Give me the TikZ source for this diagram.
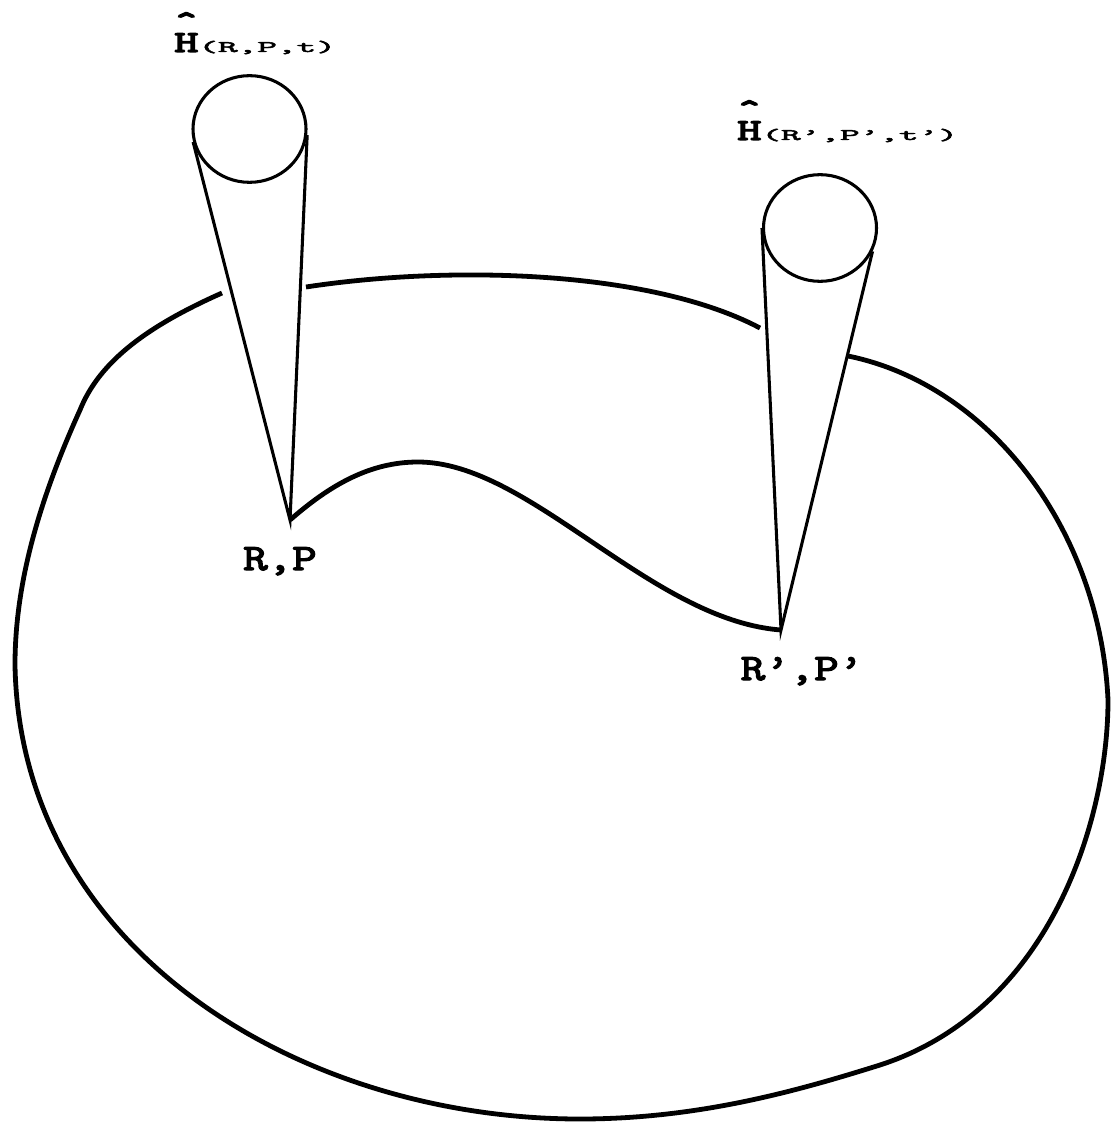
\documentclass[tikz,border=0pt]{standalone}
\usepackage{fontspec}
\usepackage{graphicx}
\usetikzlibrary{shapes.geometric}
\font\fRP="[lmmono10-regular.otf]:embolden=3" at 28pt
\font\fHH="[lmmono10-regular.otf]:embolden=3.5" at 23pt
\font\fSub="[lmmono10-regular.otf]:embolden=2.5" at 27pt
\newcommand\hathead[1]{\ooalign{#1\cr\hidewidth\raisebox{12.5pt}{\scalebox{1.7}[1.2]{ˆ}}\hidewidth\cr}}
\begin{document}
\begin{tikzpicture}[x=0.75pt,y=-0.75pt,
  thinline/.style={line width=2.3pt},
  thickline/.style={line width=3.6pt},
  ring/.style={ellipse,draw,thinline,inner sep=0pt,minimum width=84.75pt,minimum height=80pt},
  lbl/.style={font=\fRP,inner sep=0pt},
  hlbl/.style={inner sep=0pt}]
\path[use as bounding box] (0,0) rectangle (1111,1123);
% rings
\node[ring] (c1) at (249.5,129) {};
\node[ring] (c2) at (820,228) {};
% apex points
\coordinate (a1) at (290,520);
\coordinate (a2) at (781,630);
% cones
\draw[thinline,line join=miter] (c1.193) -- (a1) -- (c1.354);
\draw[thinline,line join=miter] (c2.180) -- (a2) -- (c2.336);
% outer surface (interrupted by the cones)
\draw[thickline] (306,287) .. controls (450,265) and (650,270) .. (760,328);
\draw[thickline] (222,293) .. controls (150,325) and (100,360) .. (80,410)
  .. controls (30,520) and (15,600) .. (15,665)
  .. controls (20,950) and (300,1119) .. (580,1119)
  .. controls (700,1119) and (800,1090) .. (880,1065)
  .. controls (1050,1010) and (1108,820) .. (1108,700)
  .. controls (1100,530) and (990,385) .. (848,356);
% path between the two points
\draw[thickline] (a1) .. controls (330,485) and (370,462) .. (418,462)
  .. controls (530,462) and (650,620) .. (a2);
% labels
\node[lbl,anchor=base] (rp) at (280,570) {\scalebox{1.25}[1]{R,P}};
\node[lbl,anchor=base] (rpp) at (802,680) {\scalebox{1.25}[1]{R’,P’}};
\node[hlbl,anchor=base west] (h1) at (174,52)
  {{\fHH\hathead{\scalebox{1.5}[1]{H}}}\scalebox{1.04}[0.45]{\fSub (R,P,t)}};
\node[hlbl,anchor=base west] (h2) at (737,140)
  {{\fHH\hathead{\scalebox{1.5}[1]{H}}}\scalebox{1.04}[0.45]{\fSub (R’,P’,t’)}};
\end{tikzpicture}
\end{document}
